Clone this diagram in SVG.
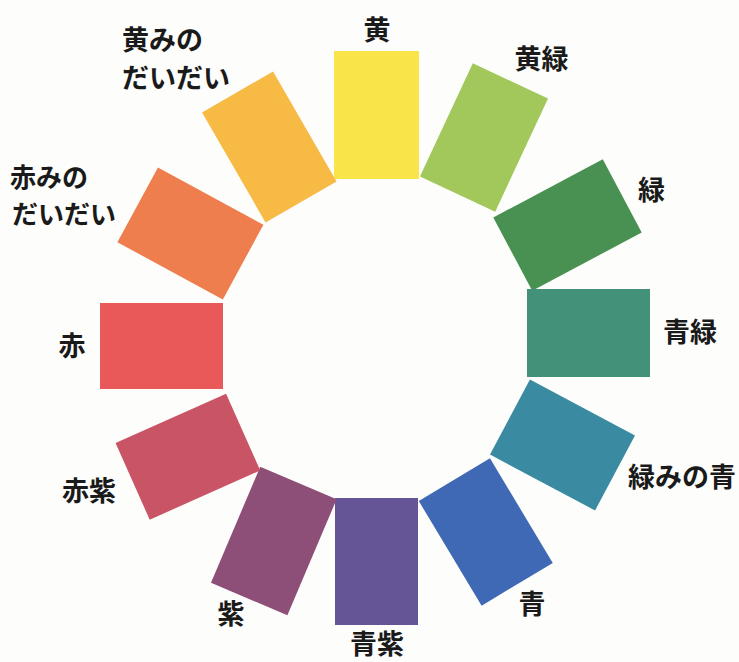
<svg xmlns="http://www.w3.org/2000/svg" width="739" height="662" viewBox="0 0 739 662">
  <style>
    .lbl { font-family: "Noto Sans CJK JP", "Noto Sans", sans-serif; font-size: 27px; font-weight: 700; fill: #1a1a1a; }
    .mid { text-anchor: middle; }
  </style>
  <rect x="0" y="0" width="739" height="662" fill="#fdfdfb"/>

  <g id="node-yellow">
    <rect x="334" y="51" width="85" height="128" fill="#f9e54a"/>
    <text class="lbl mid" x="377" y="40">黄</text>
  </g>
  <g id="node-yellow-green">
    <rect x="-41.5" y="-62.5" width="83" height="125" fill="#a2c85b" transform="translate(484 137.5) rotate(25)"/>
    <text class="lbl mid" x="541.5" y="68.5">黄緑</text>
  </g>
  <g id="node-green">
    <rect x="-41.5" y="-62" width="83" height="124" fill="#499152" transform="translate(567.5 225) rotate(62)"/>
    <text class="lbl mid" x="651.5" y="199.5">緑</text>
  </g>
  <g id="node-blue-green">
    <rect x="527" y="289" width="123" height="88" fill="#44917a"/>
    <text class="lbl mid" x="690" y="342">青緑</text>
  </g>
  <g id="node-greenish-blue">
    <rect x="-42.5" y="-59.5" width="85" height="119" fill="#3a8aa2" transform="translate(562.5 445) rotate(118)"/>
    <text class="lbl mid" x="682" y="487">緑みの青</text>
  </g>
  <g id="node-blue">
    <rect x="-41.5" y="-61" width="83" height="122" fill="#3f69b4" transform="translate(485.8 532) rotate(149)"/>
    <text class="lbl mid" x="532" y="614">青</text>
  </g>
  <g id="node-blue-purple">
    <rect x="335" y="498" width="83" height="127" fill="#655596"/>
    <text class="lbl mid" x="377" y="654">青紫</text>
  </g>
  <g id="node-purple">
    <rect x="-41.5" y="-63" width="83" height="126" fill="#8d4f77" transform="translate(273.8 541) rotate(23)"/>
    <text class="lbl mid" x="231" y="624">紫</text>
  </g>
  <g id="node-red-purple">
    <rect x="-42" y="-60.5" width="84" height="121" fill="#c85466" transform="translate(187.9 456.7) rotate(66)"/>
    <text class="lbl mid" x="89" y="501">赤紫</text>
  </g>
  <g id="node-red">
    <rect x="100" y="303" width="123" height="86" fill="#e9595a"/>
    <text class="lbl mid" x="72" y="356">赤</text>
  </g>
  <g id="node-reddish-orange">
    <rect x="-42.5" y="-60" width="85" height="120" fill="#ee7e4d" transform="translate(190.4 233.5) rotate(-61.5)"/>
    <text class="lbl" style="font-size:26px"><tspan x="10" y="187">赤みの</tspan><tspan x="12" y="224">だいだい</tspan></text>
  </g>
  <g id="node-yellowish-orange">
    <rect x="-41" y="-63.5" width="82" height="127" fill="#f7ba45" transform="translate(269.3 146.9) rotate(-30)"/>
    <text class="lbl"><tspan x="122" y="49.5">黄みの</tspan><tspan x="122" y="88">だいだい</tspan></text>
  </g>
</svg>
